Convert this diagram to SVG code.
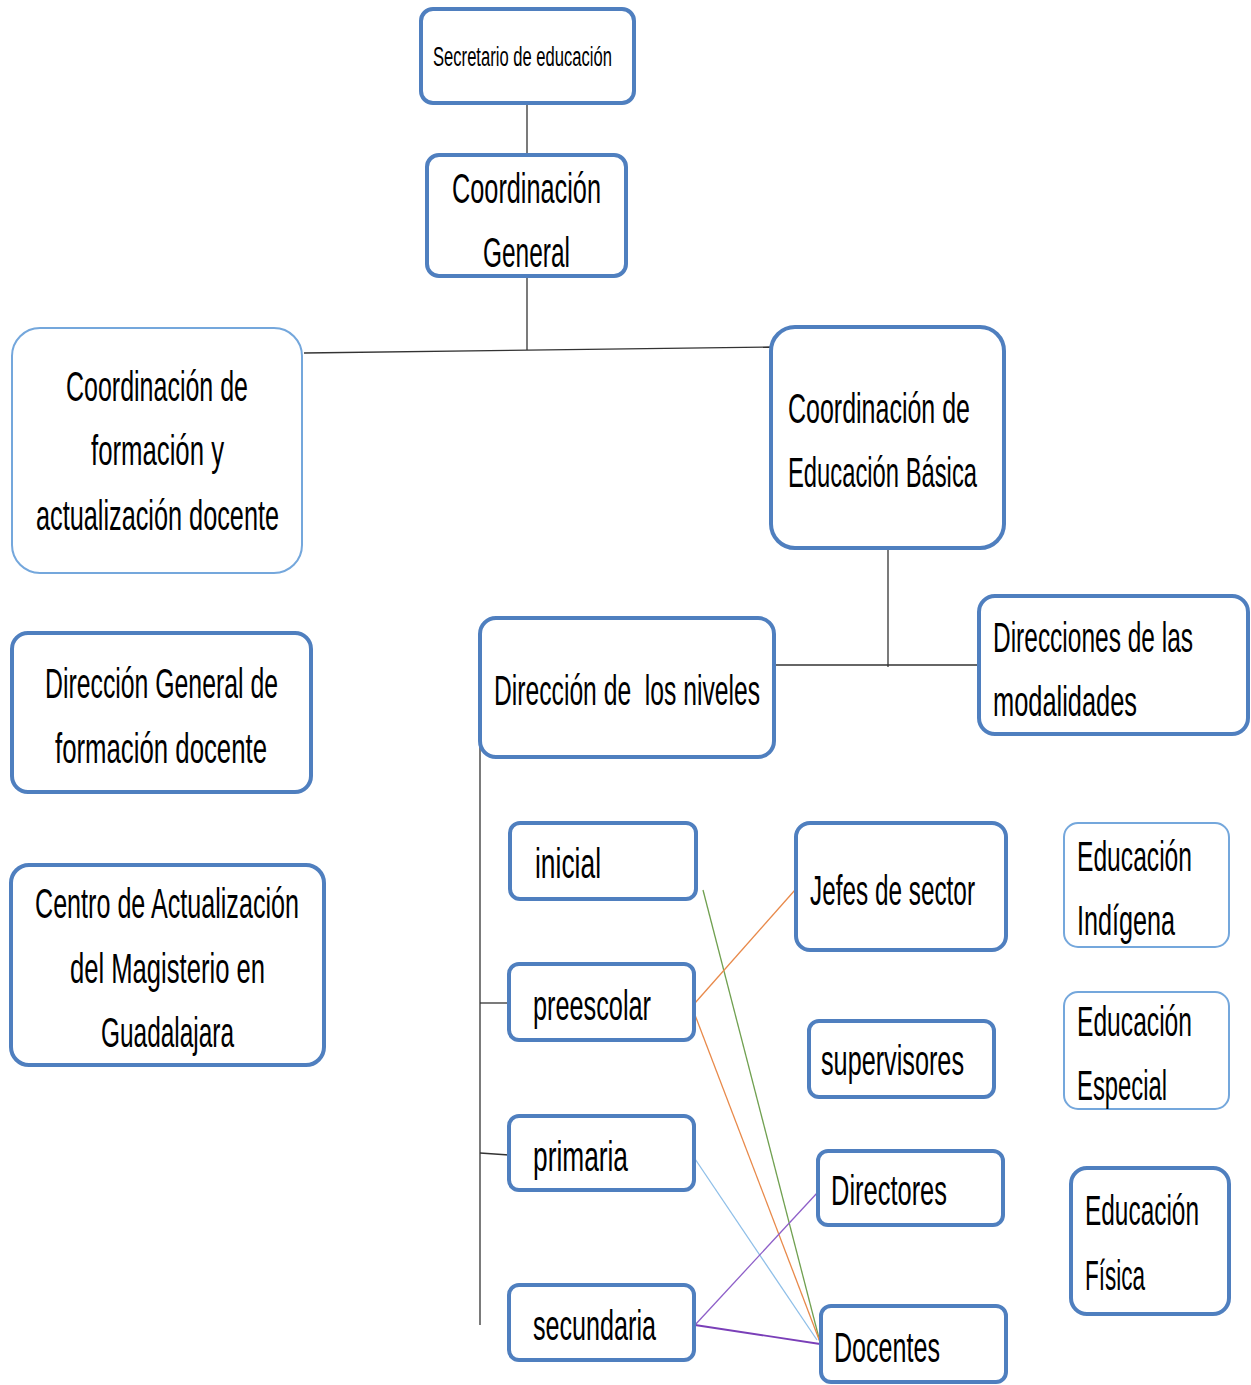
<svg xmlns="http://www.w3.org/2000/svg" width="1251" height="1385" viewBox="0 0 1251 1385">
<style>
.b{fill:#fff;stroke:#4f7fbf;stroke-width:4}
.t{fill:#fff;stroke:#74a7dc;stroke-width:2}
text{font-family:"Liberation Sans",Arial,sans-serif;font-size:43px;fill:#000}
.s{font-size:27px}
.c{fill:none;stroke:#333;stroke-width:1.3}
</style>
<rect width="1251" height="1385" fill="#fff"/>
<g id="connectors">
<line class="c" x1="527" y1="103" x2="527" y2="155"/>
<line class="c" x1="527" y1="276" x2="527" y2="350"/>
<line class="c" x1="304" y1="353" x2="771" y2="347"/>
<line class="c" x1="888" y1="548" x2="888" y2="667"/>
<line class="c" x1="776" y1="665" x2="979" y2="665"/>
<line class="c" x1="480" y1="685" x2="480" y2="1325"/>
<line class="c" x1="480" y1="1003" x2="509" y2="1003"/>
<line class="c" x1="480" y1="1153" x2="509" y2="1155"/>
<line x1="703" y1="890" x2="820" y2="1342" stroke="#70a050" stroke-width="1.3"/>
<line x1="695" y1="1003" x2="795" y2="890" stroke="#e8894a" stroke-width="1.3"/>
<line x1="695" y1="1015" x2="820" y2="1342" stroke="#e8894a" stroke-width="1.3"/>
<line x1="689" y1="1150" x2="817" y2="1340" stroke="#8fbfe8" stroke-width="1.3"/>
<line x1="695" y1="1325" x2="818" y2="1192" stroke="#8e5fc8" stroke-width="1.3"/>
<line x1="695" y1="1325" x2="820" y2="1344" stroke="#7a3fb8" stroke-width="1.8"/>
</g>
<g id="secretario"><rect class="b" x="421" y="9" width="213" height="94" rx="12"/><text class="s" x="433" y="66" textLength="179" lengthAdjust="spacingAndGlyphs">Secretario de educación</text></g>
<g id="coord-general"><rect class="b" x="427" y="155" width="199" height="121" rx="12"/><text x="452" y="203" textLength="149" lengthAdjust="spacingAndGlyphs">Coordinación</text><text x="483" y="267" textLength="87" lengthAdjust="spacingAndGlyphs">General</text></g>
<g id="coord-formacion"><rect class="t" x="12" y="328" width="290" height="245" rx="28"/><text x="66" y="401" textLength="182" lengthAdjust="spacingAndGlyphs">Coordinación de</text><text x="91" y="465" textLength="133" lengthAdjust="spacingAndGlyphs">formación y</text><text x="36" y="530" textLength="243" lengthAdjust="spacingAndGlyphs">actualización docente</text></g>
<g id="coord-basica"><rect class="b" x="771" y="327" width="233" height="221" rx="24"/><text x="788" y="423" textLength="182" lengthAdjust="spacingAndGlyphs">Coordinación de</text><text x="788" y="487" textLength="189" lengthAdjust="spacingAndGlyphs">Educación Básica</text></g>
<g id="dir-general-formacion"><rect class="b" x="12" y="633" width="299" height="159" rx="16"/><text x="45" y="698" textLength="233" lengthAdjust="spacingAndGlyphs">Dirección General de</text><text x="55" y="763" textLength="212" lengthAdjust="spacingAndGlyphs">formación docente</text></g>
<g id="centro"><rect class="b" x="11" y="865" width="313" height="200" rx="18"/><text x="35" y="918" textLength="264" lengthAdjust="spacingAndGlyphs">Centro de Actualización</text><text x="70" y="983" textLength="195" lengthAdjust="spacingAndGlyphs">del Magisterio en</text><text x="101" y="1047" textLength="133" lengthAdjust="spacingAndGlyphs">Guadalajara</text></g>
<g id="dir-niveles"><rect class="b" x="480" y="618" width="294" height="139" rx="16"/><text x="494" y="705" textLength="266" lengthAdjust="spacingAndGlyphs">Dirección de&#160; los niveles</text></g>
<g id="dir-modalidades"><rect class="b" x="979" y="596" width="269" height="138" rx="16"/><text x="993" y="652" textLength="200" lengthAdjust="spacingAndGlyphs">Direcciones de las</text><text x="993" y="716" textLength="144" lengthAdjust="spacingAndGlyphs">modalidades</text></g>
<g id="inicial"><rect class="b" x="510" y="823" width="186" height="76" rx="10"/><text x="535" y="878" textLength="66" lengthAdjust="spacingAndGlyphs">inicial</text></g>
<g id="preescolar"><rect class="b" x="509" y="964" width="185" height="76" rx="10"/><text x="533" y="1020" textLength="118" lengthAdjust="spacingAndGlyphs">preescolar</text></g>
<g id="primaria"><rect class="b" x="509" y="1116" width="185" height="74" rx="10"/><text x="533" y="1171" textLength="95" lengthAdjust="spacingAndGlyphs">primaria</text></g>
<g id="secundaria"><rect class="b" x="509" y="1285" width="185" height="75" rx="10"/><text x="533" y="1340" textLength="123" lengthAdjust="spacingAndGlyphs">secundaria</text></g>
<g id="jefes"><rect class="b" x="796" y="823" width="210" height="127" rx="14"/><text x="810" y="905" textLength="165" lengthAdjust="spacingAndGlyphs">Jefes de sector</text></g>
<g id="supervisores"><rect class="b" x="809" y="1021" width="185" height="76" rx="10"/><text x="821" y="1075" textLength="143" lengthAdjust="spacingAndGlyphs">supervisores</text></g>
<g id="directores"><rect class="b" x="818" y="1151" width="185" height="74" rx="10"/><text x="831" y="1205" textLength="116" lengthAdjust="spacingAndGlyphs">Directores</text></g>
<g id="docentes"><rect class="b" x="821" y="1306" width="185" height="76" rx="10"/><text x="834" y="1362" textLength="106" lengthAdjust="spacingAndGlyphs">Docentes</text></g>
<g id="ed-indigena"><rect class="t" x="1064" y="823" width="165" height="124" rx="14"/><text x="1077" y="871" textLength="115" lengthAdjust="spacingAndGlyphs">Educación</text><text x="1077" y="935" textLength="98" lengthAdjust="spacingAndGlyphs">Indígena</text></g>
<g id="ed-especial"><rect class="t" x="1064" y="992" width="165" height="117" rx="14"/><text x="1077" y="1036" textLength="115" lengthAdjust="spacingAndGlyphs">Educación</text><text x="1077" y="1100" textLength="90" lengthAdjust="spacingAndGlyphs">Especial</text></g>
<g id="ed-fisica"><rect class="b" x="1071" y="1168" width="158" height="146" rx="16"/><text x="1085" y="1225" textLength="114" lengthAdjust="spacingAndGlyphs">Educación</text><text x="1085" y="1290" textLength="60" lengthAdjust="spacingAndGlyphs">Física</text></g>
</svg>
